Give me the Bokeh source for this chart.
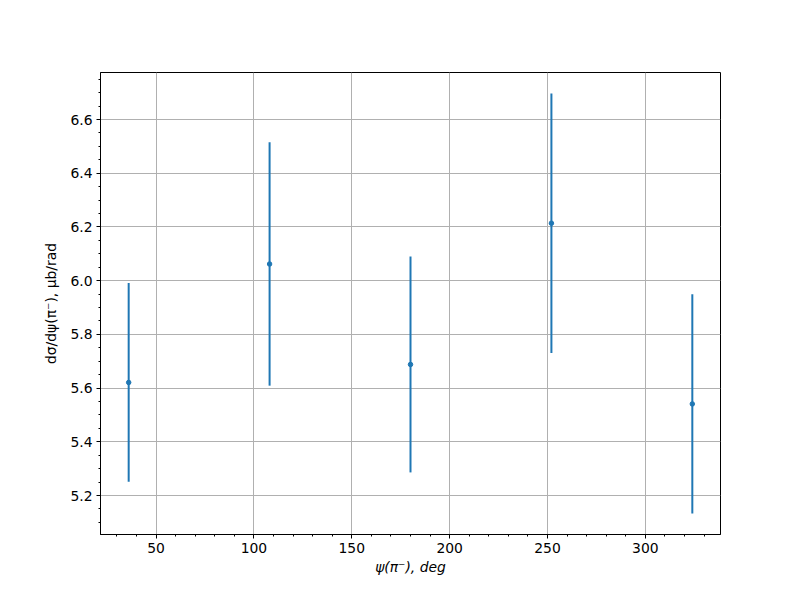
from bokeh.plotting import figure
from bokeh.models import ColumnDataSource, SingleIntervalTicker, PrintfTickFormatter, Range1d
from bokeh.embed import file_html
from bokeh.resources import INLINE

psi_deg = [36, 108, 180, 252, 324]
dsigma = [5.621, 6.062, 5.688, 6.214, 5.541]
err = [0.370, 0.453, 0.402, 0.483, 0.408]

lo = [v - e for v, e in zip(dsigma, err)]
hi = [v + e for v, e in zip(dsigma, err)]
src = ColumnDataSource(dict(x=psi_deg, y=dsigma, lo=lo, hi=hi))

span = max(hi) - min(lo)
xspan = max(psi_deg) - min(psi_deg)

p = figure(width=784, height=584, output_backend="svg", toolbar_location=None,
           x_range=Range1d(min(psi_deg) - 0.05 * xspan, max(psi_deg) + 0.05 * xspan),
           y_range=Range1d(min(lo) - 0.05 * span, max(hi) + 0.05 * span),
           min_border_left=100, min_border_right=64, min_border_top=72, min_border_bottom=50)

p.segment(x0="x", y0="lo", x1="x", y1="hi", source=src, line_color="#1f77b4", line_width=2)
p.scatter(x="x", y="y", source=src, size=4.5, color="#1f77b4")

p.xaxis.ticker = SingleIntervalTicker(interval=50, num_minor_ticks=5)
p.yaxis.ticker = SingleIntervalTicker(interval=0.2, num_minor_ticks=4)
p.yaxis.formatter = PrintfTickFormatter(format="%.1f")

for ax in (p.xaxis[0], p.yaxis[0]):
    ax.major_tick_in = 0
    ax.major_tick_out = 4
    ax.minor_tick_in = 0
    ax.minor_tick_out = 2
    ax.axis_line_color = "black"
    ax.major_tick_line_color = "black"
    ax.minor_tick_line_color = "black"
    ax.major_label_text_font = "DejaVu Sans"
    ax.major_label_text_font_size = "13.9px"
    ax.major_label_text_color = "black"
    ax.axis_label_text_font = "DejaVu Sans"
    ax.axis_label_text_font_size = "13.9px"
    ax.axis_label_text_color = "black"
    ax.major_label_standoff = 4

p.xaxis.axis_label = "ψ(π⁻), deg"
p.xaxis.axis_label_text_font_style = "italic"
p.xaxis.axis_label_standoff = 3
p.yaxis.axis_label = "dσ/dψ(π⁻), μb/rad"
p.yaxis.axis_label_text_font_style = "normal"
p.yaxis.axis_label_standoff = 8

p.grid.grid_line_color = "#b0b0b0"
p.grid.grid_line_width = 1
p.outline_line_color = "black"
p.outline_line_width = 1
p.outline_line_alpha = 1

open("out.html", "w").write(file_html(p, INLINE))
